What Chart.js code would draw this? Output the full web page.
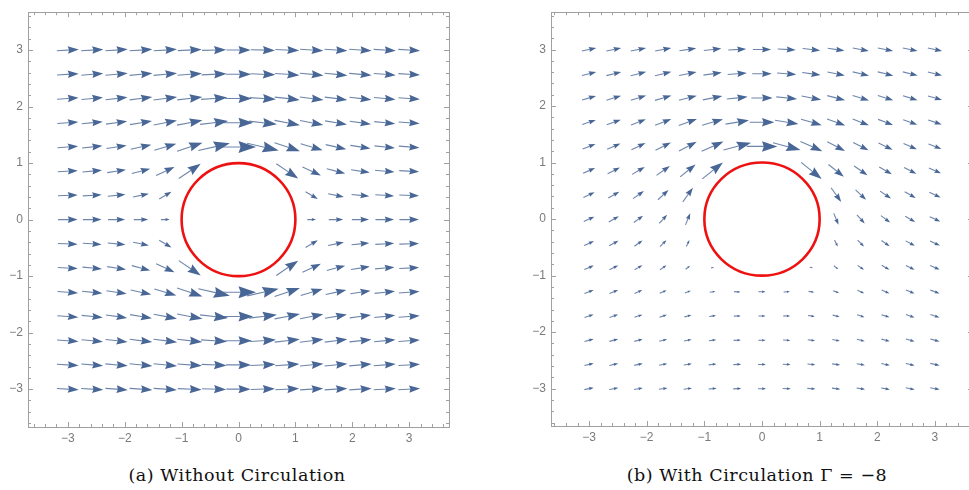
<!DOCTYPE html>
<html><head><meta charset="utf-8">
<script src="https://cdn.jsdelivr.net/npm/chart.js@4"></script>
<style>
html,body{margin:0;padding:0;overflow:hidden;background:#fff;width:969px;height:490px;}
canvas{position:absolute;top:0;}
#c1{left:0;}
#c2{left:523px;}
.cap{position:absolute;top:465px;font-family:"DejaVu Serif",serif;font-size:17.5px;letter-spacing:0.55px;line-height:20px;color:#111;white-space:nowrap;transform:translateX(-50%);}
</style></head>
<body>
<canvas id="c1" width="455" height="450"></canvas>
<canvas id="c2" width="455" height="450"></canvas>
<div class="cap" id="cap1" style="left:237px"></div>
<div class="cap" id="cap2" style="left:757px"></div>
<script>
// ---- data (grid of sample points, top row first) ----
const X_VALUES = [-3,-2.571,-2.143,-1.714,-1.286,-0.857,-0.429,0,0.429,0.857,1.286,1.714,2.143,2.571,3];
const Y_VALUES = [3,2.571,2.143,1.714,1.286,0.857,0.429,0,-0.429,-0.857,-1.286,-1.714,-2.143,-2.571,-3];
const TICK_VALUES = [-3,-2,-1,0,1,2,3];
const TICK_LABELS = ['\u22123','\u22122','\u22121','0','1','2','3'];
const CAPTIONS = ['(a) Without Circulation', '(b) With Circulation \u0393 = \u22128'];
const CYLINDER_CENTER = [0, 0];
const CYLINDER_RADIUS = 1;

// (a) without circulation: horizontal / vertical velocity components
const U_PLAIN = [
 [1.00,1.01,1.02,1.04,1.06,1.09,1.10,1.11,1.10,1.09,1.06,1.04,1.02,1.01,1.00],
 [0.99,1.00,1.02,1.04,1.07,1.11,1.14,1.15,1.14,1.11,1.07,1.04,1.02,1.00,0.99],
 [0.98,0.98,1.00,1.03,1.08,1.14,1.19,1.22,1.19,1.14,1.08,1.03,1.00,0.98,0.98],
 [0.96,0.96,0.97,1.00,1.06,1.16,1.28,1.34,1.28,1.16,1.06,1.00,0.97,0.96,0.96],
 [0.94,0.93,0.92,0.94,1.00,1.16,1.44,1.60,1.44,1.16,1.00,0.94,0.92,0.93,0.94],
 [0.91,0.89,0.86,0.84,0.84,1.00,null,null,null,1.00,0.84,0.84,0.86,0.89,0.91],
 [0.90,0.86,0.81,0.72,0.56,null,null,null,null,null,0.56,0.72,0.81,0.86,0.90],
 [0.89,0.85,0.78,0.66,0.40,null,null,null,null,null,0.40,0.66,0.78,0.85,0.89],
 [0.90,0.86,0.81,0.72,0.56,null,null,null,null,null,0.56,0.72,0.81,0.86,0.90],
 [0.91,0.89,0.86,0.84,0.84,1.00,null,null,null,1.00,0.84,0.84,0.86,0.89,0.91],
 [0.94,0.93,0.92,0.94,1.00,1.16,1.44,1.60,1.44,1.16,1.00,0.94,0.92,0.93,0.94],
 [0.96,0.96,0.97,1.00,1.06,1.16,1.28,1.34,1.28,1.16,1.06,1.00,0.97,0.96,0.96],
 [0.98,0.98,1.00,1.03,1.08,1.14,1.19,1.22,1.19,1.14,1.08,1.03,1.00,0.98,0.98],
 [0.99,1.00,1.02,1.04,1.07,1.11,1.14,1.15,1.14,1.11,1.07,1.04,1.02,1.00,0.99],
 [1.00,1.01,1.02,1.04,1.06,1.09,1.10,1.11,1.10,1.09,1.06,1.04,1.02,1.01,1.00]
];
const V_PLAIN = [
 [0.06,0.06,0.07,0.07,0.07,0.05,0.03,0,-0.03,-0.05,-0.07,-0.07,-0.07,-0.06,-0.06],
 [0.06,0.08,0.09,0.10,0.10,0.08,0.05,0,-0.05,-0.08,-0.10,-0.10,-0.09,-0.08,-0.06],
 [0.07,0.09,0.11,0.13,0.14,0.13,0.08,0,-0.08,-0.13,-0.14,-0.13,-0.11,-0.09,-0.07],
 [0.07,0.10,0.13,0.17,0.21,0.22,0.15,0,-0.15,-0.22,-0.21,-0.17,-0.13,-0.10,-0.07],
 [0.07,0.10,0.14,0.21,0.30,0.39,0.33,0,-0.33,-0.39,-0.30,-0.21,-0.14,-0.10,-0.07],
 [0.05,0.08,0.13,0.22,0.39,0.68,null,null,null,-0.68,-0.39,-0.22,-0.13,-0.08,-0.05],
 [0.03,0.05,0.08,0.15,0.33,null,null,null,null,null,-0.33,-0.15,-0.08,-0.05,-0.03],
 [0,0,0,0,0,null,null,null,null,null,0,0,0,0,0],
 [-0.03,-0.05,-0.08,-0.15,-0.33,null,null,null,null,null,0.33,0.15,0.08,0.05,0.03],
 [-0.05,-0.08,-0.13,-0.22,-0.39,-0.68,null,null,null,0.68,0.39,0.22,0.13,0.08,0.05],
 [-0.07,-0.10,-0.14,-0.21,-0.30,-0.39,-0.33,0,0.33,0.39,0.30,0.21,0.14,0.10,0.07],
 [-0.07,-0.10,-0.13,-0.17,-0.21,-0.22,-0.15,0,0.15,0.22,0.21,0.17,0.13,0.10,0.07],
 [-0.07,-0.09,-0.11,-0.13,-0.14,-0.13,-0.08,0,0.08,0.13,0.14,0.13,0.11,0.09,0.07],
 [-0.06,-0.08,-0.09,-0.10,-0.10,-0.08,-0.05,0,0.05,0.08,0.10,0.10,0.09,0.08,0.06],
 [-0.06,-0.06,-0.07,-0.07,-0.07,-0.05,-0.03,0,0.03,0.05,0.07,0.07,0.07,0.06,0.06]
];

// (b) with circulation Gamma = -8
const U_CIRC = [
 [1.21,1.25,1.30,1.36,1.42,1.48,1.52,1.54,1.52,1.48,1.42,1.36,1.30,1.25,1.21],
 [1.20,1.25,1.31,1.38,1.47,1.55,1.62,1.65,1.62,1.55,1.47,1.38,1.31,1.25,1.20],
 [1.18,1.23,1.30,1.39,1.51,1.65,1.76,1.81,1.76,1.65,1.51,1.39,1.30,1.23,1.18],
 [1.14,1.19,1.26,1.37,1.54,1.76,1.98,2.08,1.98,1.76,1.54,1.37,1.26,1.19,1.14],
 [1.09,1.13,1.19,1.30,1.50,1.85,2.33,2.60,2.33,1.85,1.50,1.30,1.19,1.13,1.09],
 [1.02,1.04,1.07,1.13,1.30,1.74,null,null,null,1.74,1.30,1.13,1.07,1.04,1.02],
 [0.95,0.94,0.92,0.89,0.86,null,null,null,null,null,0.86,0.89,0.92,0.94,0.95],
 [0.89,0.85,0.78,0.66,0.40,null,null,null,null,null,0.40,0.66,0.78,0.85,0.89],
 [0.84,0.78,0.69,0.54,0.27,null,null,null,null,null,0.27,0.54,0.69,0.78,0.84],
 [0.80,0.74,0.66,0.54,0.38,0.26,null,null,null,0.26,0.38,0.54,0.66,0.74,0.80],
 [0.78,0.73,0.66,0.58,0.50,0.48,0.54,0.61,0.54,0.48,0.50,0.58,0.66,0.73,0.78],
 [0.77,0.73,0.68,0.63,0.59,0.57,0.58,0.60,0.58,0.57,0.59,0.63,0.68,0.73,0.77],
 [0.78,0.74,0.70,0.67,0.64,0.62,0.62,0.62,0.62,0.62,0.64,0.67,0.70,0.74,0.78],
 [0.78,0.75,0.72,0.70,0.68,0.66,0.66,0.66,0.66,0.66,0.68,0.70,0.72,0.75,0.78],
 [0.79,0.77,0.74,0.72,0.71,0.69,0.69,0.69,0.69,0.69,0.71,0.72,0.74,0.77,0.79]
];
const V_CIRC = [
 [0.27,0.27,0.27,0.26,0.22,0.17,0.09,0,-0.09,-0.17,-0.22,-0.26,-0.27,-0.27,-0.27],
 [0.31,0.32,0.33,0.33,0.29,0.23,0.13,0,-0.13,-0.23,-0.29,-0.33,-0.33,-0.32,-0.31],
 [0.35,0.38,0.41,0.42,0.40,0.33,0.19,0,-0.19,-0.33,-0.40,-0.42,-0.41,-0.38,-0.35],
 [0.39,0.44,0.49,0.54,0.57,0.51,0.33,0,-0.33,-0.51,-0.57,-0.54,-0.49,-0.44,-0.39],
 [0.43,0.49,0.58,0.68,0.80,0.84,0.62,0,-0.62,-0.84,-0.80,-0.68,-0.58,-0.49,-0.43],
 [0.45,0.53,0.64,0.81,1.07,1.42,null,null,null,-1.42,-1.07,-0.81,-0.64,-0.53,-0.45],
 [0.45,0.53,0.65,0.85,1.22,null,null,null,null,null,-1.22,-0.85,-0.65,-0.53,-0.45],
 [0.42,0.50,0.59,0.74,0.99,null,null,null,null,null,-0.99,-0.74,-0.59,-0.50,-0.42],
 [0.39,0.43,0.49,0.55,0.56,null,null,null,null,null,-0.56,-0.55,-0.49,-0.43,-0.39],
 [0.34,0.36,0.38,0.38,0.30,0.06,null,null,null,-0.06,-0.30,-0.38,-0.38,-0.36,-0.34],
 [0.29,0.30,0.30,0.27,0.19,0.07,-0.03,0,0.03,-0.07,-0.19,-0.27,-0.30,-0.30,-0.29],
 [0.25,0.25,0.23,0.20,0.15,0.08,0.02,0,-0.02,-0.08,-0.15,-0.20,-0.23,-0.25,-0.25],
 [0.21,0.20,0.19,0.16,0.12,0.08,0.03,0,-0.03,-0.08,-0.12,-0.16,-0.19,-0.20,-0.21],
 [0.18,0.17,0.16,0.13,0.10,0.07,0.03,0,-0.03,-0.07,-0.10,-0.13,-0.16,-0.17,-0.18],
 [0.16,0.15,0.13,0.11,0.09,0.06,0.03,0,-0.03,-0.06,-0.09,-0.11,-0.13,-0.15,-0.16]
];

// ---- style ----
const ARROW_COLOR = 'rgb(72,102,150)';
const FRAME_COLOR = '#a0a0a0';
const LABEL_COLOR = '#7a7a7a';
const MINOR_STEP = 0.2;

document.getElementById('cap1').textContent = CAPTIONS[0];
document.getElementById('cap2').textContent = CAPTIONS[1];

function buildPoints(U, V) {
  const pts = [];
  Y_VALUES.forEach((y, r) => X_VALUES.forEach((x, c) => {
    if (U[r][c] !== null) pts.push({ x: x, y: y, u: U[r][c], v: V[r][c] });
  }));
  return pts;
}

function tickList(lim) {
  const out = [];
  const n = Math.floor(lim / MINOR_STEP + 1e-9);
  for (let t = -n; t <= n; t++) out.push({ value: Math.round(t * MINOR_STEP * 1000) / 1000 });
  return out;
}
function labelFor(v) {
  const i = TICK_VALUES.indexOf(Math.round(v * 1000) / 1000);
  return i >= 0 ? TICK_LABELS[i] : '';
}

const arrowPlugin = {
  id: 'arrows',
  afterDatasetsDraw(chart, args, opts) {
    const { ctx } = chart;
    const xs = chart.scales.x, ys = chart.scales.y;
    const k = opts.scale;
    ctx.save();
    ctx.beginPath();
    ctx.rect(chart.chartArea.left, chart.chartArea.top, chart.chartArea.right - chart.chartArea.left, chart.chartArea.bottom - chart.chartArea.top);
    ctx.clip();
    chart.data.datasets[0].data.forEach(p => {
      const x0 = xs.getPixelForValue(p.x - p.u * k / 2), y0 = ys.getPixelForValue(p.y - p.v * k / 2);
      const x1 = xs.getPixelForValue(p.x + p.u * k / 2), y1 = ys.getPixelForValue(p.y + p.v * k / 2);
      const dx = x1 - x0, dy = y1 - y0, L = Math.hypot(dx, dy);
      if (L < 0.3) return;
      const ux = dx / L, uy = dy / L;
      const hl = L * 0.5, hw = L * 0.17;
      const bx = x1 - ux * hl, by = y1 - uy * hl;
      ctx.strokeStyle = ARROW_COLOR;
      ctx.globalAlpha = 0.8;
      ctx.lineWidth = 1.1;
      ctx.beginPath();
      ctx.moveTo(x0, y0);
      ctx.lineTo(bx + ux * hl * 0.3, by + uy * hl * 0.3);
      ctx.stroke();
      ctx.globalAlpha = 1;
      ctx.fillStyle = ARROW_COLOR;
      ctx.beginPath();
      ctx.moveTo(x1, y1);
      ctx.lineTo(bx - uy * hw, by + ux * hw);
      ctx.lineTo(bx + ux * hl * 0.12, by + uy * hl * 0.12);
      ctx.lineTo(bx + uy * hw, by - ux * hw);
      ctx.closePath();
      ctx.fill();
    });
    ctx.restore();
  }
};

const cylinderPlugin = {
  id: 'cylinder',
  afterDatasetsDraw(chart) {
    const { ctx } = chart;
    const xs = chart.scales.x, ys = chart.scales.y;
    const cx = xs.getPixelForValue(CYLINDER_CENTER[0]), cy = ys.getPixelForValue(CYLINDER_CENTER[1]);
    const rx = Math.abs(xs.getPixelForValue(CYLINDER_CENTER[0] + CYLINDER_RADIUS) - cx);
    const ry = Math.abs(ys.getPixelForValue(CYLINDER_CENTER[1] + CYLINDER_RADIUS) - cy);
    ctx.save();
    ctx.strokeStyle = '#ee1111';
    ctx.lineWidth = 2.6;
    ctx.beginPath();
    ctx.ellipse(cx, cy, rx, ry, 0, 0, Math.PI * 2);
    ctx.stroke();
    ctx.restore();
  }
};

const framePlugin = {
  id: 'frame',
  afterDraw(chart) {
    const { ctx, chartArea: a } = chart;
    const xs = chart.scales.x, ys = chart.scales.y;
    ctx.save();
    ctx.strokeStyle = FRAME_COLOR;
    ctx.lineWidth = 1;
    ctx.strokeRect(Math.round(a.left) + 0.5, Math.round(a.top) + 0.5, Math.round(a.right - a.left), Math.round(a.bottom - a.top));
    ctx.beginPath();
    xs.ticks.forEach(t => {
      const px = Math.round(xs.getPixelForValue(t.value)) + 0.5;
      const len = labelFor(t.value) ? 5 : 3;
      ctx.moveTo(px, a.bottom); ctx.lineTo(px, a.bottom - len);
      ctx.moveTo(px, a.top); ctx.lineTo(px, a.top + len);
    });
    ys.ticks.forEach(t => {
      const py = Math.round(ys.getPixelForValue(t.value)) + 0.5;
      const len = labelFor(t.value) ? 5 : 3;
      ctx.moveTo(a.left, py); ctx.lineTo(a.left + len, py);
      ctx.moveTo(a.right, py); ctx.lineTo(a.right - len, py);
    });
    ctx.stroke();
    ctx.restore();
  }
};

function makeChart(id, U, V, lim, pad, xAxisH, arrowScale) {
  const tickFont = { family: 'Liberation Sans', size: 12 };
  return new Chart(document.getElementById(id), {
    type: 'scatter',
    data: { datasets: [{ data: buildPoints(U, V), pointRadius: 0, pointHoverRadius: 0 }] },
    options: {
      responsive: false,
      animation: false,
      events: [],
      layout: { padding: pad },
      plugins: { legend: { display: false }, tooltip: { enabled: false }, arrows: { scale: arrowScale } },
      scales: {
        x: {
          type: 'linear', min: -lim[0], max: lim[0],
          afterBuildTicks: s => { s.ticks = tickList(lim[0]); },
          afterFit: s => { s.height = xAxisH; },
          grid: { display: false, drawTicks: false },
          border: { display: false },
          ticks: { autoSkip: false, maxRotation: 0, padding: 4, color: LABEL_COLOR, font: tickFont, callback: v => labelFor(v) }
        },
        y: {
          type: 'linear', min: -lim[1], max: lim[1],
          afterBuildTicks: s => { s.ticks = tickList(lim[1]); },
          afterFit: s => { s.width = 28; },
          grid: { display: false, drawTicks: false },
          border: { display: false },
          ticks: { autoSkip: false, padding: 5, color: LABEL_COLOR, font: tickFont, callback: v => labelFor(v) }
        }
      }
    },
    plugins: [arrowPlugin, cylinderPlugin, framePlugin]
  });
}

makeChart('c1', U_PLAIN, V_PLAIN, [3.7, 3.67], { top: 5, right: 6, left: 0, bottom: 0 }, 23, 0.385);
// right panel: its canvas runs past the right edge of the page, so the right side of the frame is cut off
makeChart('c2', U_CIRC, V_CIRC, [3.66, 3.66], { top: 2, right: 5, left: 0, bottom: 0 }, 24, 0.205);
</script>
</body></html>
